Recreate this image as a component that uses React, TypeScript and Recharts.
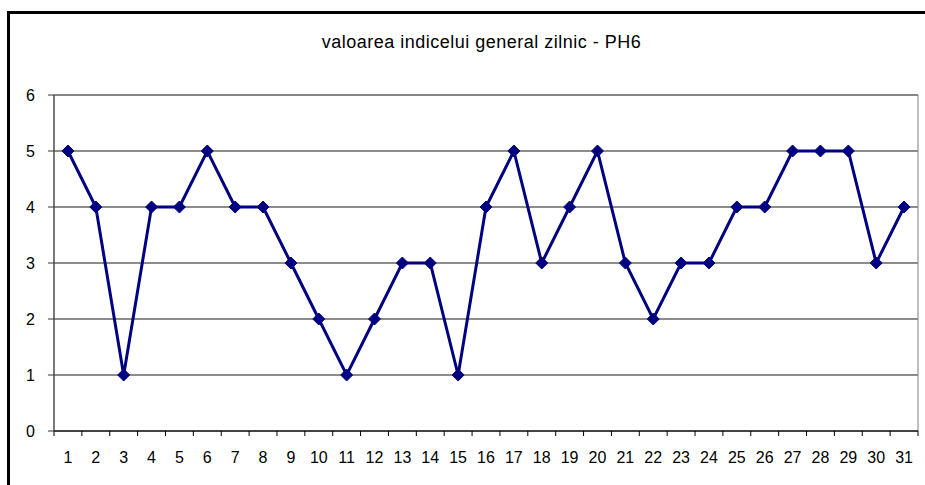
import React from 'react';
import { LineChart, Line, XAxis, YAxis, CartesianGrid, ReferenceArea } from 'recharts';

const days: number[] = Array.from({ length: 31 }, (_, i) => i + 1);
const values: number[] = [5, 4, 1, 4, 4, 5, 4, 4, 3, 2, 1, 2, 3, 3, 1, 4, 5, 3, 4, 5, 3, 2, 3, 3, 4, 4, 5, 5, 5, 3, 4];
const yTicks: number[] = [0, 1, 2, 3, 4, 5, 6];
const title = 'valoarea indicelui general zilnic - PH6';

const data = days.map((d, i) => ({ day: d, value: values[i] }));
const boundaries = [...days.map((d) => d - 0.5), days[days.length - 1] + 0.5];

const PLOT_LEFT = 54;
const PLOT_RIGHT = 918;
const BAND = (PLOT_RIGHT - PLOT_LEFT) / days.length;
const FONT = 'Arial, "Liberation Sans", sans-serif';

const XTick = (props: any) => {
  const { x, y, payload } = props;
  const label = payload.value + 0.5;
  if (label > days[days.length - 1]) return <g />;
  return (
    <text x={x + BAND / 2} y={y} dy="0.71em" textAnchor="middle" fill="#000" fontSize={16} fontFamily={FONT}>
      {label}
    </text>
  );
};

const Diamond = (props: any) => {
  const { cx, cy } = props;
  if (cx == null || cy == null) return null;
  const r = 6;
  return <path d={`M${cx},${cy - r}L${cx + r},${cy}L${cx},${cy + r}L${cx - r},${cy}Z`} fill="#000080" stroke="#000080" strokeWidth={1} />;
};

export default function App() {
  return (
    <div style={{ position: 'absolute', left: 0, top: 0, width: 925, height: 485, overflow: 'hidden', background: '#fff' }}>
      <div
        style={{
          position: 'absolute',
          left: 7,
          top: 11,
          width: 1200,
          height: 1200,
          borderTop: '3px solid #000',
          borderLeft: '3px solid #000',
        }}
      />
      <div
        style={{
          position: 'absolute',
          left: 0,
          top: 32,
          width: 963,
          textAlign: 'center',
          fontFamily: FONT,
          fontSize: 18,
          letterSpacing: 0.5,
          color: '#000',
          whiteSpace: 'nowrap',
        }}
      >
        {title}
      </div>
      <div style={{ position: 'absolute', left: 0, top: 0 }}>
        <LineChart width={925} height={485} data={data} margin={{ top: 95, right: 925 - PLOT_RIGHT, bottom: 0, left: 14 }}>
          <CartesianGrid vertical={false} stroke="#1a1a1a" />
          <ReferenceArea x1={0.5} x2={31.5} y1={0} y2={6} fill="none" stroke="#808080" strokeWidth={1} ifOverflow="extendDomain" />
          <XAxis
            dataKey="day"
            type="number"
            domain={[0.5, 31.5]}
            ticks={boundaries}
            interval={0}
            tickSize={5}
            tickMargin={16}
            tick={<XTick />}
            axisLine={{ stroke: '#000' }}
            tickLine={{ stroke: '#000' }}
            height={54}
            allowDecimals
          />
          <YAxis
            domain={[0, 6]}
            ticks={yTicks}
            interval={0}
            width={40}
            tickSize={6}
            tickMargin={13}
            axisLine={{ stroke: '#333' }}
            tickLine={{ stroke: '#333' }}
            tick={{ fill: '#000', fontSize: 16, fontFamily: FONT }}
          />
          <Line
            type="linear"
            dataKey="value"
            stroke="#000080"
            strokeWidth={3}
            dot={<Diamond />}
            activeDot={false}
            isAnimationActive={false}
          />
        </LineChart>
      </div>
    </div>
  );
}
